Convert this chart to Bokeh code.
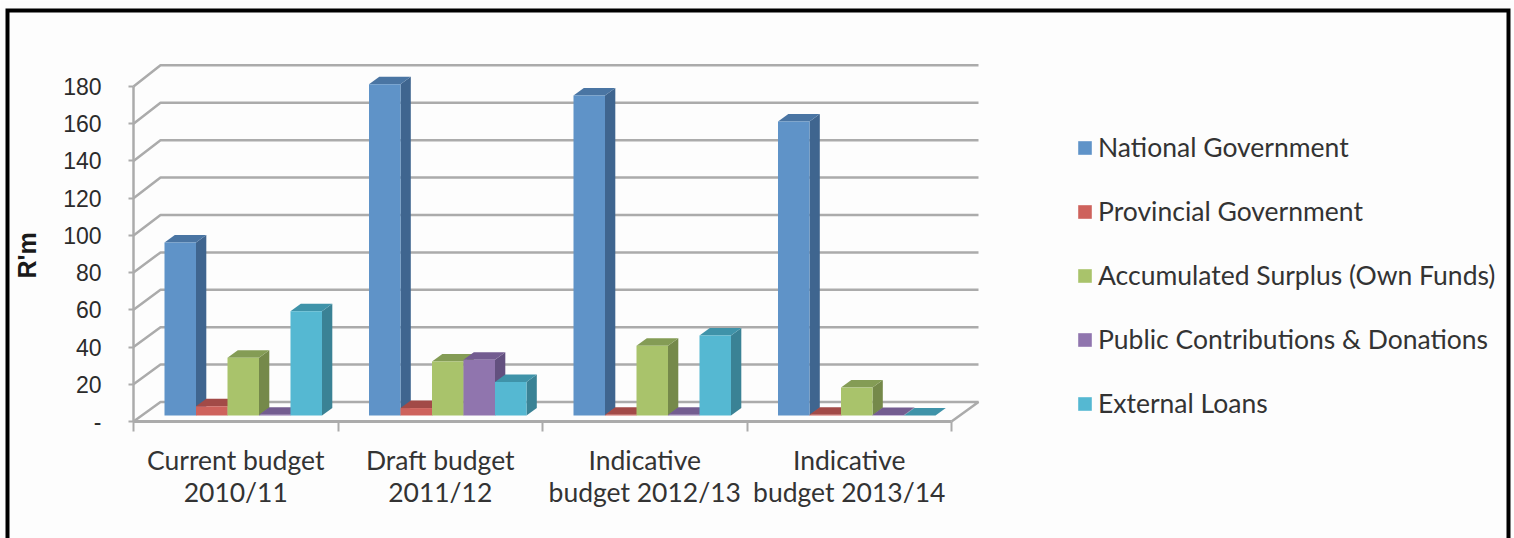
from bokeh.embed import file_html
from bokeh.models import (BoxAnnotation, FixedTicker, Label, Legend, LegendItem,
                          LinearAxis, Range1d)
from bokeh.plotting import figure
from bokeh.resources import INLINE

# Budget funding by source, R'm
categories = ["Current budget\n2010/11", "Draft budget\n2011/12",
              "Indicative\nbudget 2012/13", "Indicative\nbudget 2013/14"]
series_names = ["National Government", "Provincial Government",
                "Accumulated Surplus (Own Funds)",
                "Public Contributions & Donations", "External Loans"]
national = [93, 178, 172, 158]
provincial = [5, 4, 0.4, 0.4]
surplus = [31, 29, 37.5, 15]
donations = [0.4, 30, 0.4, 0.3]
loans = [56, 18, 43, 0]
series_values = [national, provincial, surplus, donations, loans]

front_colors = ["#5F93C8", "#CE625C", "#A9C36B", "#9075AE", "#55B8D2"]
top_colors = ["#4A75A3", "#A24A47", "#849C55", "#735C90", "#3F93A9"]
side_colors = ["#3F658F", "#8C3F3C", "#75894A", "#63507F", "#3A8295"]

y_ticks = list(range(0, 181, 20))

# One group spans 204.5 px, one value unit spans 1.861 px
PX_X = 1 / 204.5
PX_Y = 1 / 1.861

WALL_DX, WALL_DY = 27 * PX_X, 19.5 * PX_Y      # depth of the chart box
WALL_SCALE = 1.005                             # back wall is drawn slightly taller
BAR_DX, BAR_DY = 10.3 * PX_X, 7.5 * PX_Y       # depth of a column
BASE = 6 * PX_Y                                # columns stand inside the floor
BAR_W = 31.5 * PX_X
FIRST_BAR = 31 * PX_X

# The plot area fills the page; both axes are pinned at the data origin
p = figure(width=1514, height=538, output_backend="svg", toolbar_location=None,
           x_range=Range1d(-133 * PX_X, 1381 * PX_X),
           y_range=Range1d(-117 * PX_Y, 421 * PX_Y),
           x_axis_type=None, y_axis_type=None, min_border=0,
           background_fill_color="#FDFDFD", border_fill_color="#FDFDFD",
           outline_line_color=None)
p.grid.visible = False

GRID = "#ABABAB"

# Back wall gridlines with their diagonal returns to the value axis
for v in y_ticks[1:]:
    back = v * WALL_SCALE + WALL_DY
    p.line([0, WALL_DX, 4 + WALL_DX], [v, back, back],
           line_color=GRID, line_width=2.5)
# Floor outline
p.line([0, WALL_DX, 4 + WALL_DX, 4], [0, WALL_DY, WALL_DY, 0],
       line_color=GRID, line_width=2.5)

legend_items = []
for s, (name, values) in enumerate(zip(series_names, series_values)):
    lefts = [g + FIRST_BAR + s * BAR_W for g in range(len(values))]
    rights = [x + BAR_W for x in lefts]
    tops = [BASE + v for v in values]
    # Side and top faces sit behind the front face
    p.patches([[r, r + BAR_DX, r + BAR_DX, r] for r in rights],
              [[BASE, BASE + BAR_DY, t + BAR_DY, t] for t in tops],
              fill_color=side_colors[s], line_color=None)
    p.patches([[l, l + BAR_DX, r + BAR_DX, r] for l, r in zip(lefts, rights)],
              [[t, t + BAR_DY, t + BAR_DY, t] for t in tops],
              fill_color=top_colors[s], line_color=None)
    front = p.quad(left=lefts, right=rights, bottom=[BASE] * len(values), top=tops,
                   fill_color=front_colors[s], line_color=None)
    legend_items.append(LegendItem(label=name, renderers=[front]))

# Value axis
y_axis = LinearAxis(ticker=FixedTicker(ticks=y_ticks), bounds=(0, 180), fixed_location=0,
                    major_label_overrides={0: "-"},
                    axis_line_color=GRID, axis_line_width=2.5,
                    major_tick_line_color=GRID, major_tick_line_width=2,
                    major_tick_in=0, major_tick_out=5, minor_tick_line_color=None,
                    major_label_standoff=27,
                    major_label_text_font="Liberation Sans",
                    major_label_text_font_size="23px",
                    major_label_text_color="#2B2B2B")
p.add_layout(y_axis, "left")

# Category axis: labels centred in each group, tick marks at group boundaries
x_axis = LinearAxis(ticker=FixedTicker(ticks=[0.5, 1.5, 2.5, 3.5], minor_ticks=[0, 1, 2, 3, 4]),
                    bounds=(0, 4), fixed_location=0,
                    major_label_overrides={g + 0.5: c for g, c in enumerate(categories)},
                    axis_line_color=GRID, axis_line_width=3,
                    major_tick_line_color=None, major_tick_in=0, major_tick_out=0,
                    minor_tick_line_color=GRID, minor_tick_line_width=2,
                    minor_tick_in=0, minor_tick_out=10,
                    major_label_standoff=12,
                    major_label_text_font="Lato",
                    major_label_text_font_size="26.5px",
                    major_label_text_line_height=1.0,
                    major_label_text_color="#333333")
p.add_layout(x_axis, "below")

legend = Legend(items=legend_items, location=(1076, 119),
                orientation="vertical", padding=0, margin=0, spacing=32,
                glyph_width=17, glyph_height=17, label_height=27, label_standoff=5,
                label_text_font="Lato", label_text_font_size="26.5px",
                label_text_color="#333333", border_line_color=None,
                background_fill_alpha=0)
p.add_layout(legend)

p.add_layout(Label(x=26, y=255, x_units="canvas", y_units="canvas", text="R'm",
                   angle=90, angle_units="deg", text_font="Liberation Sans",
                   text_font_style="bold", text_font_size="25px", text_color="#1A1A1A",
                   text_align="center", text_baseline="middle"))

# Black frame round the whole chart, running off the bottom of the page
p.add_layout(BoxAnnotation(left=7, right=1508, top=10, bottom=600,
                           left_units="canvas", right_units="canvas",
                           top_units="canvas", bottom_units="canvas",
                           fill_alpha=0, line_color="#000000", line_width=4, line_alpha=1,
                           line_join="miter", border_radius=0))

open("out.html", "w").write(file_html(p, INLINE))
